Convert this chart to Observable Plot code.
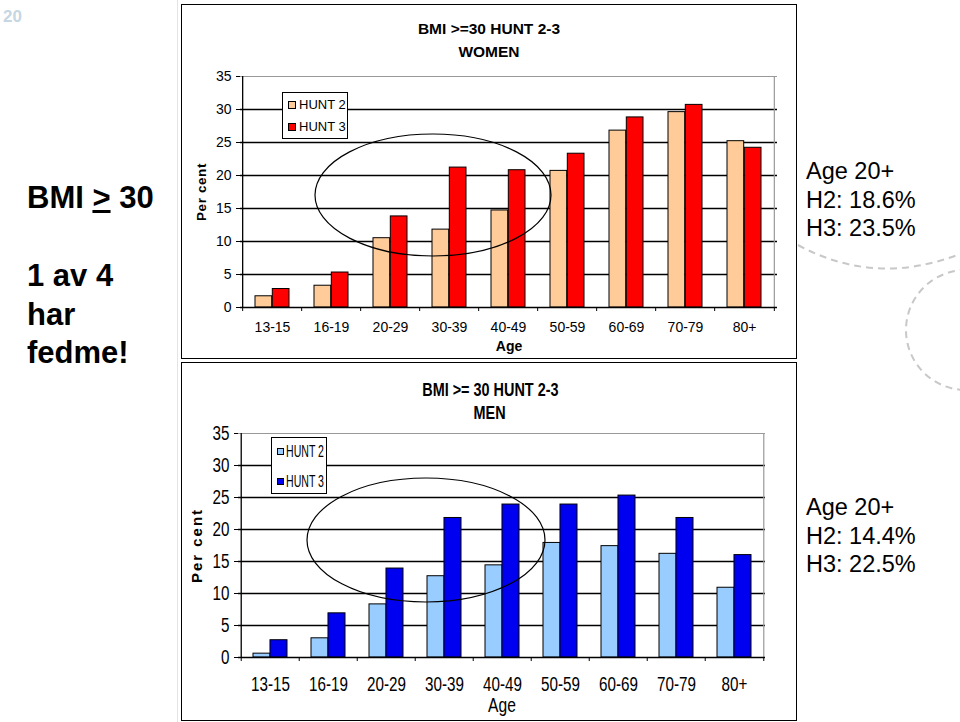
<!DOCTYPE html>
<html>
<head>
<meta charset="utf-8">
<script src="https://cdn.jsdelivr.net/npm/d3@7"></script>
<script src="https://cdn.jsdelivr.net/npm/@observablehq/plot@0.6"></script>
<style>
  body { margin: 0; background: #fff; }
  #page { position: relative; width: 960px; height: 722px; overflow: hidden; font-family: "Liberation Sans", Arial, sans-serif; color: #000; }
  .abs { position: absolute; }
  .box { position: absolute; border: 1.5px solid #000; box-sizing: border-box; }
  .cond { display: inline-block; transform: scaleX(0.78); transform-origin: 50% 50%; white-space: nowrap; }
  .big { font-weight: bold; font-size: 31px; line-height: 38.5px; }
  .side { font-size: 23.5px; line-height: 28.5px; }
  .title { text-align: center; font-weight: bold; }
  .legend { position: absolute; border: 1px solid #000; background: #fff; box-sizing: border-box; }
  .legend .item { position: absolute; left: 0; white-space: nowrap; }
  .legend .sw { display: inline-block; border: 1px solid #000; box-sizing: border-box; vertical-align: middle; }
</style>
</head>
<body>
<div id="page">
  <div class="abs" style="left:177px;top:0;width:1px;height:722px;background:#e4e4e4"></div>
  <div class="abs" style="left:3px;top:7px;font-weight:bold;font-size:17px;color:#c6d6e2">20</div>
  <div class="abs big" style="left:27px;top:179px">BMI <u>&gt;</u> 30</div>
  <div class="abs big" style="left:27px;top:257px">1 av 4<br>har<br>fedme!</div>

  <div class="box" style="left:181px;top:4px;width:616px;height:355px"></div>
  <div class="box" style="left:181px;top:362px;width:616px;height:359px"></div>

  <div class="abs title" style="left:369px;top:17px;width:240px;font-size:15.5px;line-height:23px">BMI &gt;=30 HUNT 2-3<br>WOMEN</div>
  <div class="abs title" style="left:370px;top:378px;width:240px;font-size:18.5px;line-height:23px"><span class="cond">BMI &gt;= 30 HUNT 2-3</span><br><span class="cond">MEN</span></div>

  <div id="women" class="abs" style="left:180px;top:60px"></div>
  <div id="men" class="abs" style="left:180px;top:418px"></div>

  <div class="abs side" style="left:806px;top:157px">Age 20+<br>H2: 18.6%<br>H3: 23.5%</div>
  <div class="abs side" style="left:806px;top:493px">Age 20+<br>H2: 14.4%<br>H3: 22.5%</div>

  <div id="legW" class="legend" style="left:282px;top:92px;width:66px;height:47px"></div>
  <div id="legM" class="legend" style="left:271px;top:437px;width:56px;height:57px"></div>

  <svg class="abs" style="left:0;top:0;pointer-events:none" width="960" height="722">
    <ellipse cx="433" cy="195" rx="118" ry="61" fill="none" stroke="#000" stroke-width="1.2"></ellipse>
    <ellipse cx="426" cy="540" rx="119" ry="62" fill="none" stroke="#000" stroke-width="1.2"></ellipse>
    <path d="M798,245 Q875,287 960,254" fill="none" stroke="#c8c8c8" stroke-width="2" stroke-dasharray="7 5"></path>
    <circle cx="966" cy="330" r="60" fill="none" stroke="#c8c8c8" stroke-width="2" stroke-dasharray="7 5"></circle>
  </svg>
</div>
<script>
const ages = ["13-15", "16-19", "20-29", "30-39", "40-49", "50-59", "60-69", "70-79", "80+"];
const womenHunt2 = [1.7, 3.3, 10.5, 11.8, 14.7, 20.7, 26.8, 29.6, 25.2];
const womenHunt3 = [2.8, 5.3, 13.8, 21.2, 20.8, 23.3, 28.8, 30.7, 24.2];
const menHunt2 = [0.6, 3.0, 8.3, 12.7, 14.4, 17.9, 17.4, 16.2, 10.9];
const menHunt3 = [2.7, 6.9, 13.9, 21.8, 23.9, 23.9, 25.3, 21.8, 16.0];
const yTicks = [0, 5, 10, 15, 20, 25, 30, 35];
const seriesNames = ["HUNT 2", "HUNT 3"];
const womenColors = ["#FFCC99", "#FF0000"];
const menColors = ["#99CCFF", "#0000F0"];

function barChart(o) {
  const [mt, mr, mb, ml] = o.margin;
  const n = ages.length;
  const step = (o.width - ml - mr) / n;
  const bw = step * (1 - 0.42);
  const pxPerUnit = (o.height - mt - mb) / 35;
  const rows2 = ages.map((a, i) => ({age: a, value: o.h2[i]}));
  const rows3 = ages.map((a, i) => ({age: a, value: o.h3[i]}));
  const tickY = -o.tickLen / pxPerUnit;
  const svg = Plot.plot({
    width: o.width, height: o.height,
    marginTop: mt, marginRight: mr, marginBottom: mb, marginLeft: ml,
    style: {fontFamily: "Liberation Sans, Arial, sans-serif", fontSize: o.tickFont + "px", background: "transparent", color: "#000", overflow: "visible"},
    x: {type: "band", domain: ages, paddingInner: 0.42, paddingOuter: 0.21, align: 0.5},
    y: {domain: [0, 35]},
    marks: [
      Plot.ruleY(yTicks.filter(t => t > 0 && t < 35), {stroke: "#000", strokeWidth: 1.3}),
      Plot.ruleY([35], {stroke: "#999", strokeWidth: 1.2}),
      Plot.ruleX([ages[n - 1]], {dx: step / 2, y1: 0, y2: 35, stroke: "#999", strokeWidth: 1.2}),
      Plot.barY(rows2, {x: "age", y: "value", fill: o.c2, stroke: "#000", strokeWidth: 1, insetRight: bw / 2}),
      Plot.barY(rows3, {x: "age", y: "value", fill: o.c3, stroke: "#000", strokeWidth: 1, insetLeft: bw / 2}),
      Plot.ruleY([0], {stroke: "#000", strokeWidth: 1.3}),
      Plot.ruleX([ages[0]], {dx: -step / 2, y1: 0, y2: 35, stroke: "#000", strokeWidth: 1.3}),
      Plot.ruleX(ages, {dx: -step / 2, y1: 0, y2: tickY, stroke: "#000"}),
      Plot.ruleX([ages[n - 1]], {dx: step / 2, y1: 0, y2: tickY, stroke: "#000"}),
      Plot.axisY(yTicks, {tickSize: o.tickLen, tickPadding: 5, label: null, fontSize: o.tickFont}),
      Plot.axisX({tickSize: 0, tickPadding: o.xPad, label: null, fontSize: o.xFont}),
      Plot.text(["Age"], {frameAnchor: "bottom", lineAnchor: "middle", textAnchor: "middle", dy: o.ageDy, fontWeight: o.ageWeight, fontSize: o.ageFont}),
      Plot.text(["Per cent"], {frameAnchor: "left", rotate: -90, textAnchor: "middle", lineAnchor: "middle", dx: o.perDx, fontWeight: "bold", fontSize: o.perFont})
    ]
  });
  svg.querySelectorAll("text").forEach(t => {
    if (t.textContent === "Per cent") t.setAttribute("letter-spacing", o.perSpacing);
  });
  return svg;
}

function condense(svg, k) {
  svg.querySelectorAll("text").forEach(t => {
    if (t.textContent === "Per cent") return;
    const len = t.getComputedTextLength();
    if (len > 0) {
      t.setAttribute("textLength", (len * k).toFixed(2));
      t.setAttribute("lengthAdjust", "spacingAndGlyphs");
    }
  });
}

document.getElementById("women").appendChild(barChart({
  h2: womenHunt2, h3: womenHunt3, c2: womenColors[0], c3: womenColors[1],
  width: 610, height: 297, margin: [16, 13, 50, 60],
  tickFont: 14, xFont: 14, xPad: 15,
  ageDy: 39, ageFont: 14, ageWeight: "bold", perDx: -39, perFont: 13.5, perSpacing: 0.6, tickLen: 4
}));

const menSvg = barChart({
  h2: menHunt2, h3: menHunt3, c2: menColors[0], c3: menColors[1],
  width: 600, height: 300, margin: [15, 15, 61, 58],
  tickFont: 19.5, xFont: 19.5, xPad: 20,
  ageDy: 48, ageFont: 20, ageWeight: "normal", perDx: -41, perFont: 15, perSpacing: 2, tickLen: 4
});
document.getElementById("men").appendChild(menSvg);
condense(menSvg, 0.78);

function legend(el, colors, fontSize, rowCenters, sw, textLeft, swLeft, k) {
  seriesNames.forEach((name, i) => {
    const item = document.createElement("div");
    item.className = "item";
    item.style.top = (rowCenters[i] - fontSize * 0.6) + "px";
    item.style.fontSize = fontSize + "px";
    item.style.lineHeight = (fontSize * 1.2) + "px";
    item.style.left = swLeft + "px";
    const s = document.createElement("span");
    s.className = "sw";
    s.style.width = sw + "px";
    s.style.height = sw + "px";
    s.style.background = colors[i];
    s.style.marginRight = (textLeft - swLeft - sw) + "px";
    s.style.marginTop = "-2px";
    item.appendChild(s);
    const txt = document.createElement("span");
    txt.textContent = name;
    txt.style.display = "inline-block";
    txt.style.transform = `scaleX(${k})`;
    txt.style.transformOrigin = "0 50%";
    item.appendChild(txt);
    el.appendChild(item);
  });
}
legend(document.getElementById("legW"), womenColors, 13, [12, 34], 8, 16, 5, 1);
legend(document.getElementById("legM"), menColors, 16.5, [14, 44], 7, 14, 5, 0.64);
</script>
</body>
</html>
